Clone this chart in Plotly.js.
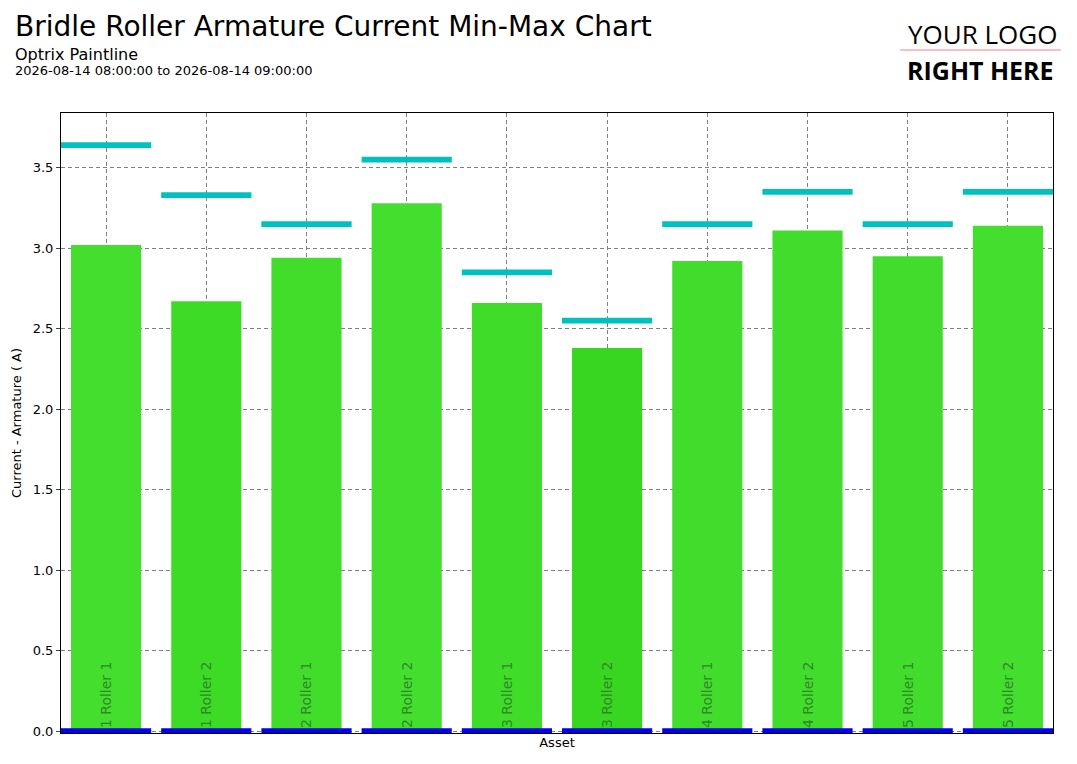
<!DOCTYPE html>
<html>
<head>
<meta charset="utf-8">
<script src="https://cdn.plot.ly/plotly-3.0.1.min.js"></script>
<style>body{margin:0;background:#fff}#chart{width:1077px;height:764px}</style>
</head>
<body>
<div id="chart"></div>
<script>
// bridle rollers and their armature current (A)
const assets = ['Bridle 1 Roller 1', 'Bridle 1 Roller 2', 'Bridle 2 Roller 1', 'Bridle 2 Roller 2',
    'Bridle 3 Roller 1', 'Bridle 3 Roller 2', 'Bridle 4 Roller 1', 'Bridle 4 Roller 2',
    'Bridle 5 Roller 1', 'Bridle 5 Roller 2'];
const averages = [3.02, 2.67, 2.94, 3.28, 2.66, 2.38, 2.92, 3.11, 2.95, 3.14];
const maxima = [3.64, 3.33, 3.15, 3.55, 2.85, 2.55, 3.15, 3.35, 3.15, 3.35];
const minima = [0, 0, 0, 0, 0, 0, 0, 0, 0, 0];
const barColors = ['#44de2e', '#3ddb26', '#42dd2b', '#44df2e', '#40dc2a', '#38d620', '#42dd2c', '#42dd2c', '#42dd2c', '#44de2e'];

const markThick = 0.035;

// the start of each label sits under the axis in the original, only the tail shows
const barLabels = assets.map(a => a.replace('Bridle ', ''));

const avgTrace = {
    x: assets, y: averages, type: 'bar', width: 0.7,
    marker: { color: barColors },
    text: barLabels, textposition: 'inside', insidetextanchor: 'start', textangle: -90,
    textfont: { color: '#2e8a26', size: 14 }, hoverinfo: 'y'
};
const maxTrace = {
    x: assets, y: maxima.map(() => markThick), base: maxima.map(v => v - markThick / 2),
    type: 'bar', width: 0.9, marker: { color: '#00c0c0' }, hoverinfo: 'skip'
};
const minTrace = {
    x: assets, y: minima.map(() => markThick), base: minima.map(v => v - markThick / 2),
    type: 'bar', width: 0.9, marker: { color: '#0000ee' }, hoverinfo: 'skip'
};

const txt = (text, x, y, size, anchor, family) => ({
    text, x, y, xref: 'paper', yref: 'paper', xanchor: anchor, yanchor: 'middle',
    showarrow: false, font: { size, family: family || 'DejaVu Sans, sans-serif' }
});

const layout = {
    width: 1077, height: 764,
    paper_bgcolor: '#fff', plot_bgcolor: '#fff',
    margin: { t: 113, b: 31, l: 61, r: 24 },
    font: { family: 'DejaVu Sans, sans-serif', color: '#000', size: 13 },
    barmode: 'overlay', showlegend: false,
    xaxis: {
        range: [-0.45, 9.45],
        showticklabels: false, ticks: '', showgrid: true, gridcolor: '#808080', griddash: '4px,3px',
        showline: true, linecolor: '#000', mirror: true,
        title: { text: 'Asset', font: { size: 13 }, standoff: 4 }
    },
    yaxis: {
        range: [-0.012, 3.84], dtick: 0.5, tickformat: '.1f',
        showgrid: true, gridcolor: '#808080', griddash: '4px,3px', zeroline: false,
        showline: true, linecolor: '#000', mirror: true, ticks: 'outside', ticklen: 4,
        title: { text: 'Current - Armature ( A)', font: { size: 13 }, standoff: 8 }
    },
    annotations: [
        txt('Bridle Roller Armature Current Min-Max Chart', -0.048, 1.140, 28, 'left'),
        txt('Optrix Paintline', -0.048, 1.095, 16, 'left'),
        txt('2026-08-14 08:00:00 to 2026-08-14 09:00:00', -0.048, 1.068, 13, 'left'),
        txt('YOUR LOGO', 1.006, 1.127, 26, 'right', 'Open Sans, sans-serif'),
        txt('<b>RIGHT HERE</b>', 1.003, 1.069, 25, 'right', 'Open Sans, sans-serif')
    ],
    shapes: [
        { type: 'line', xref: 'paper', yref: 'paper', x0: 0.846, x1: 1.008, y0: 1.1016, y1: 1.1016,
          line: { color: '#f08080', width: 1 } }
    ]
};

Plotly.newPlot('chart', [avgTrace, maxTrace, minTrace], layout, { displayModeBar: false });
</script>
</body>
</html>
